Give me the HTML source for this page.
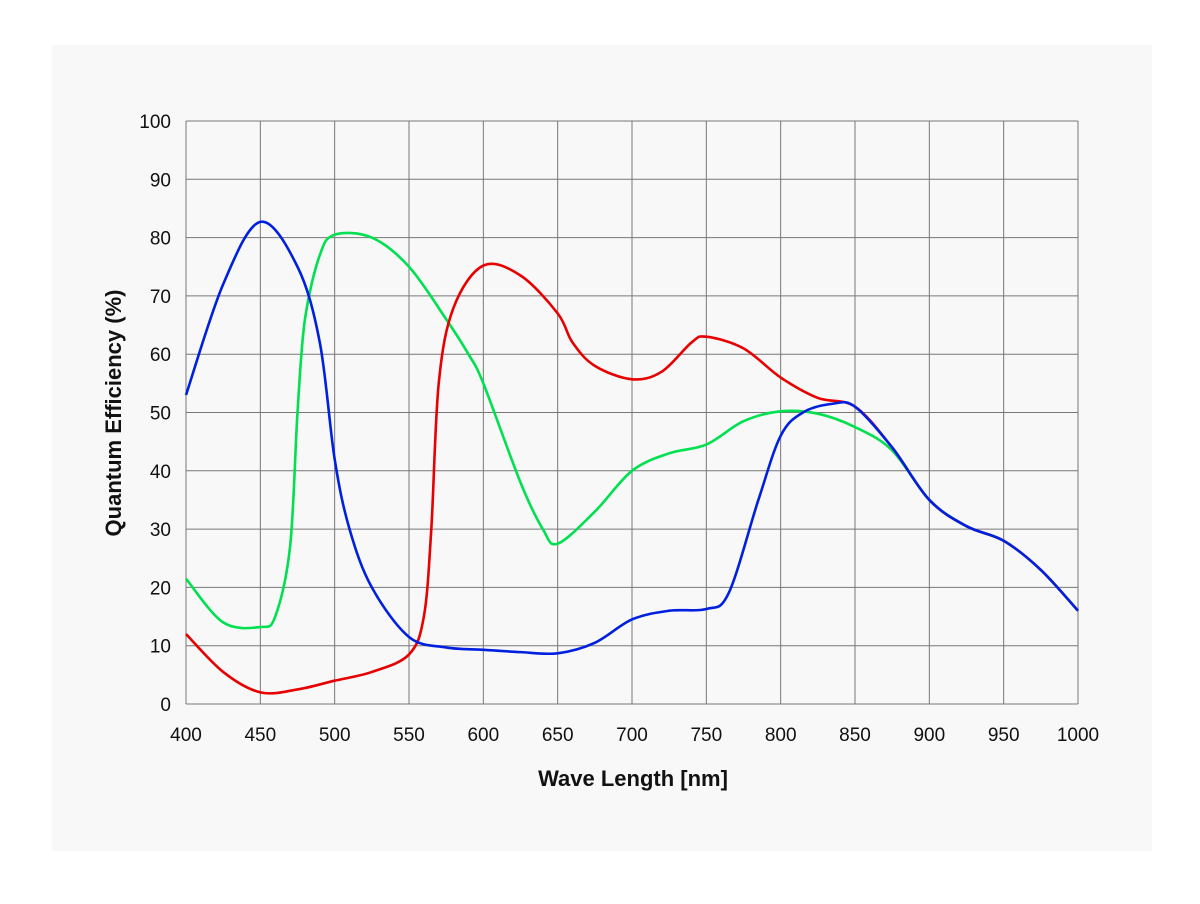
<!DOCTYPE html>
<html><head><meta charset="utf-8"><style>
body{margin:0;background:#fff;font-family:"Liberation Sans",sans-serif}
</style></head><body>
<svg width="1200" height="899" xmlns="http://www.w3.org/2000/svg">
<rect x="52" y="45" width="1100" height="806" fill="#f8f8f8"/>
<g id="grid"></g>
<g id="ticks" font-size="19" fill="#111"></g>
<g id="series"></g>
<text x="633" y="786" text-anchor="middle" font-size="22" font-weight="bold" fill="#111">Wave Length [nm]</text>
<text transform="translate(121,413) rotate(-90)" text-anchor="middle" font-size="22" font-weight="bold" fill="#111">Quantum Efficiency (%)</text>
</svg>
<script>
const xTicks=[400,450,500,550,600,650,700,750,800,850,900,950,1000];
const yTicks=[0,10,20,30,40,50,60,70,80,90,100];
const blueX=[400,425,450,475,490,500,510,525,550,575,600,625,650,675,700,725,750,765,785,800,815,835,850,875,900,925,950,975,1000];
const blueY=[53,72,82.7,75,62,42,30,20,11.5,9.7,9.3,8.9,8.7,10.5,14.5,16,16.3,19,35,46,50,51.5,51,44,35,30.5,28,23,16];
const greenX=[400,425,450,460,470,475,480,490,500,525,550,575,590,600,625,640,650,675,700,725,750,775,800,825,850,875,900,925,950,975,1000];
const greenY=[21.5,14,13.2,15,27,50,66,77,80.5,80,75,66,60,55,38,30,27.5,33,40,43,44.5,48.5,50.2,49.8,47.5,43.5,35,30.5,28,23,16];
const redX=[400,425,450,475,500,525,550,560,565,570,580,600,625,650,660,675,700,720,740,750,775,800,825,850,875,900,925,950,975,1000];
const redY=[12,5.5,2,2.5,4,5.5,8.5,15,30,55,68,75.2,73.5,67,62,58,55.7,57,62,63,61,56,52.5,51,44,35,30.5,28,23,16];
const X0=186,X1=1078,Y0=704,Y1=121;
const sx=v=>X0+(v-400)/600*(X1-X0), sy=v=>Y0-v/100*(Y0-Y1);
const NS="http://www.w3.org/2000/svg";
const grid=document.getElementById('grid'),ticks=document.getElementById('ticks'),series=document.getElementById('series');
function mk(tag,attrs,parent){const e=document.createElementNS(NS,tag);for(const k in attrs)e.setAttribute(k,attrs[k]);parent.appendChild(e);return e;}
xTicks.forEach(t=>{
 const l=mk('line',{x1:sx(t),x2:sx(t),y1:Y1,y2:Y0,stroke:'#777','stroke-width':1},grid);
 
 
 const tx=mk('text',{x:sx(t),y:741,'text-anchor':'middle'},ticks);tx.textContent=t;
 
 
});
yTicks.forEach(t=>{
 const l=mk('line',{x1:X0,x2:X1,y1:sy(t),y2:sy(t),stroke:'#777','stroke-width':1},grid);
 
 
 const tx=mk('text',{x:171,y:sy(t)+7,'text-anchor':'end'},ticks);tx.textContent=t;
 
 
});
function path(xs,ys){
 const p=xs.map((x,i)=>[sx(x),sy(ys[i])]);
 let d='M'+p[0][0]+','+p[0][1];
 for(let i=0;i<p.length-1;i++){
  const a=p[Math.max(0,i-1)],b=p[i],c=p[i+1],e=p[Math.min(p.length-1,i+2)];
  const c1=[b[0]+(c[0]-a[0])/6,b[1]+(c[1]-a[1])/6],c2=[c[0]-(e[0]-b[0])/6,c[1]-(e[1]-b[1])/6];
  d+=` C${c1[0]},${c1[1]} ${c2[0]},${c2[1]} ${c[0]},${c[1]}`;
 }
 return d;
}
[[greenX,greenY,'#00e050','green-curve'],[redX,redY,'#e80000','red-curve'],[blueX,blueY,'#0020e0','blue-curve']].forEach(s=>{
 const p=mk('path',{d:path(s[0],s[1]),fill:'none',stroke:s[2],'stroke-width':2.6},series);
 
 
});
</script>
</body></html>
